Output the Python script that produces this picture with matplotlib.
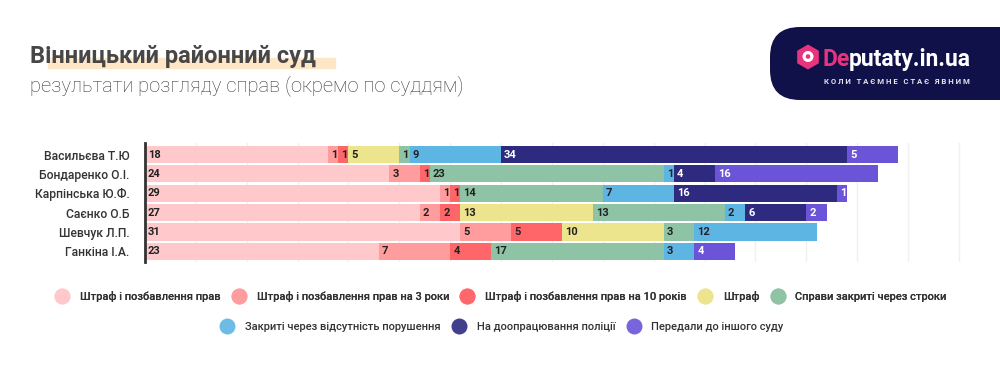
# horizontal stacked bars: court case results per judge

import matplotlib.pyplot as plt
from matplotlib.lines import Line2D
from matplotlib.patches import FancyBboxPatch, Rectangle, RegularPolygon

plt.rcParams['font.family'] = ['Roboto', 'DejaVu Sans']

judges = ["Васильєва Т.Ю", "Бондаренко О.І.", "Карпінська Ю.Ф.",
          "Саєнко О.Б", "Шевчук Л.П.", "Ганкіна І.А."]

categories = ["Штраф і позбавлення прав",
              "Штраф і позбавлення прав на 3 роки",
              "Штраф і позбавлення прав на 10 років",
              "Штраф",
              "Справи закриті через строки",
              "Закриті через відсутність порушення",
              "На доопрацювання поліції",
              "Передали до іншого суду"]

# one list per category, in judge order
fine_and_ban = [18, 24, 29, 27, 31, 23]
ban_3_years = [1, 3, 1, 2, 5, 7]
ban_10_years = [1, 1, 1, 2, 5, 4]
fine_only = [5, 0, 0, 13, 10, 0]
closed_timeout = [1, 23, 14, 13, 3, 17]
closed_no_offence = [9, 1, 7, 2, 12, 3]
back_to_police = [34, 4, 16, 6, 0, 0]
other_court = [5, 16, 1, 2, 0, 4]

series = [fine_and_ban, ban_3_years, ban_10_years, fine_only,
          closed_timeout, closed_no_offence, back_to_police, other_court]

colors = ["#ffc9cc", "#ff9c9e", "#ff6669", "#ede48e",
          "#8ec3a5", "#5db5e4", "#2d2a80", "#6b54d8"]
text_colors = ["#222222"] * 6 + ["white", "white"]

figure = plt.figure(figsize=(10, 3.73), dpi=100)
ax = figure.add_axes([0.145, 1 - 262 / 373, 0.817, 119 / 373])

rows = list(range(len(judges)))
lefts = [0] * len(judges)
for values, col, tcol in zip(series, colors, text_colors):
    ax.barh(rows, values, left=lefts, height=0.88, color=col, edgecolor='none', zorder=2)
    for r, (v, l) in enumerate(zip(values, lefts)):
        if v > 0:
            ax.text(l + 0.3, r, str(v), va='center', ha='left', fontsize=8,
                    fontweight='bold', color=tcol, zorder=3)
    lefts = [l + v for l, v in zip(lefts, values)]

ax.set_xlim(0, 80.3)
ax.set_ylim(len(judges) - 0.45, -0.6)
ax.set_xticks(range(0, 81, 5))
ax.xaxis.grid(True, color='#f0f0f0', linewidth=1, zorder=0)
ax.tick_params(axis='x', length=0, labelbottom=False)
ax.tick_params(axis='y', length=0, pad=11)
ax.set_yticks(rows)
ax.set_yticklabels(judges, fontsize=8.7, color='#333333', fontweight='medium')
for s in ['top', 'right', 'bottom']:
    ax.spines[s].set_visible(False)
ax.spines['left'].set_color('#333333')
ax.spines['left'].set_linewidth(2)
ax.spines['left'].set_zorder(4)

# legends, two centred rows
handles = [Line2D([], [], marker='o', linestyle='none', markersize=11.5,
                  markerfacecolor=c, markeredgecolor='none', alpha=0.9) for c in colors]
legend_style = dict(loc='center', frameon=False, handlelength=1.6,
                    handletextpad=0.8, columnspacing=0.85, labelcolor='#333333',
                    prop={'size': 8, 'weight': 'medium'})
leg1 = figure.legend(handles[:5], categories[:5], ncol=5,
                     bbox_to_anchor=(0.5, 1 - 296 / 373), **legend_style)
leg2 = figure.legend(handles[5:], categories[5:], ncol=3,
                     bbox_to_anchor=(0.501, 1 - 327 / 373), **legend_style)
figure.add_artist(leg1)

# overlay in pixel coordinates for title and logo
over = figure.add_axes([0, 0, 1, 1], zorder=-1)
over.set_xlim(0, 1000)
over.set_ylim(373, 0)
over.axis('off')

over.add_patch(Rectangle((48, 58), 287, 10, color='#fde7c6', zorder=1))
over.text(30, 63, "Вінницький районний суд", fontsize=17, fontweight='bold',
          color='#474747', va='baseline', zorder=2)
over.text(30, 91, "результати розгляду справ (окремо по суддям)", fontsize=14.5,
          fontweight='light', color='#3a3a3a', va='baseline', zorder=2)

over_logo = figure.add_axes([0, 0, 1, 1], zorder=5)
over_logo.set_xlim(0, 1000)
over_logo.set_ylim(373, 0)
over_logo.axis('off')
over_logo.add_patch(FancyBboxPatch((770, 27), 270, 73,
                                   boxstyle='round,pad=0,rounding_size=30',
                                   facecolor='#11114a', edgecolor='none',
                                   mutation_aspect=1))
over_logo.add_patch(RegularPolygon((808, 57), 6, radius=12.5, orientation=0,
                                   facecolor='#e8347d', edgecolor='none'))
over_logo.add_patch(plt.Circle((808, 56.5), 5.5, facecolor='white', edgecolor='none'))
over_logo.add_patch(plt.Circle((808, 56.5), 2.3, facecolor='#e8347d', edgecolor='none'))
t = over_logo.text(822, 66, "De", fontsize=16.5, fontweight='bold', color='#e8347d',
                   va='baseline')
over_logo.annotate("putaty.in.ua", xycoords=t, xy=(1, 0), va='bottom', fontsize=16.5,
                   fontweight='bold', color='white')
over_logo.text(897, 82, "К О Л И   Т А Є М Н Е   С Т А Є   Я В Н И М", fontsize=5.6,
               fontweight='bold', color='#e6e6ee', ha='center', va='center')

figure.savefig("out.png", dpi=100)
